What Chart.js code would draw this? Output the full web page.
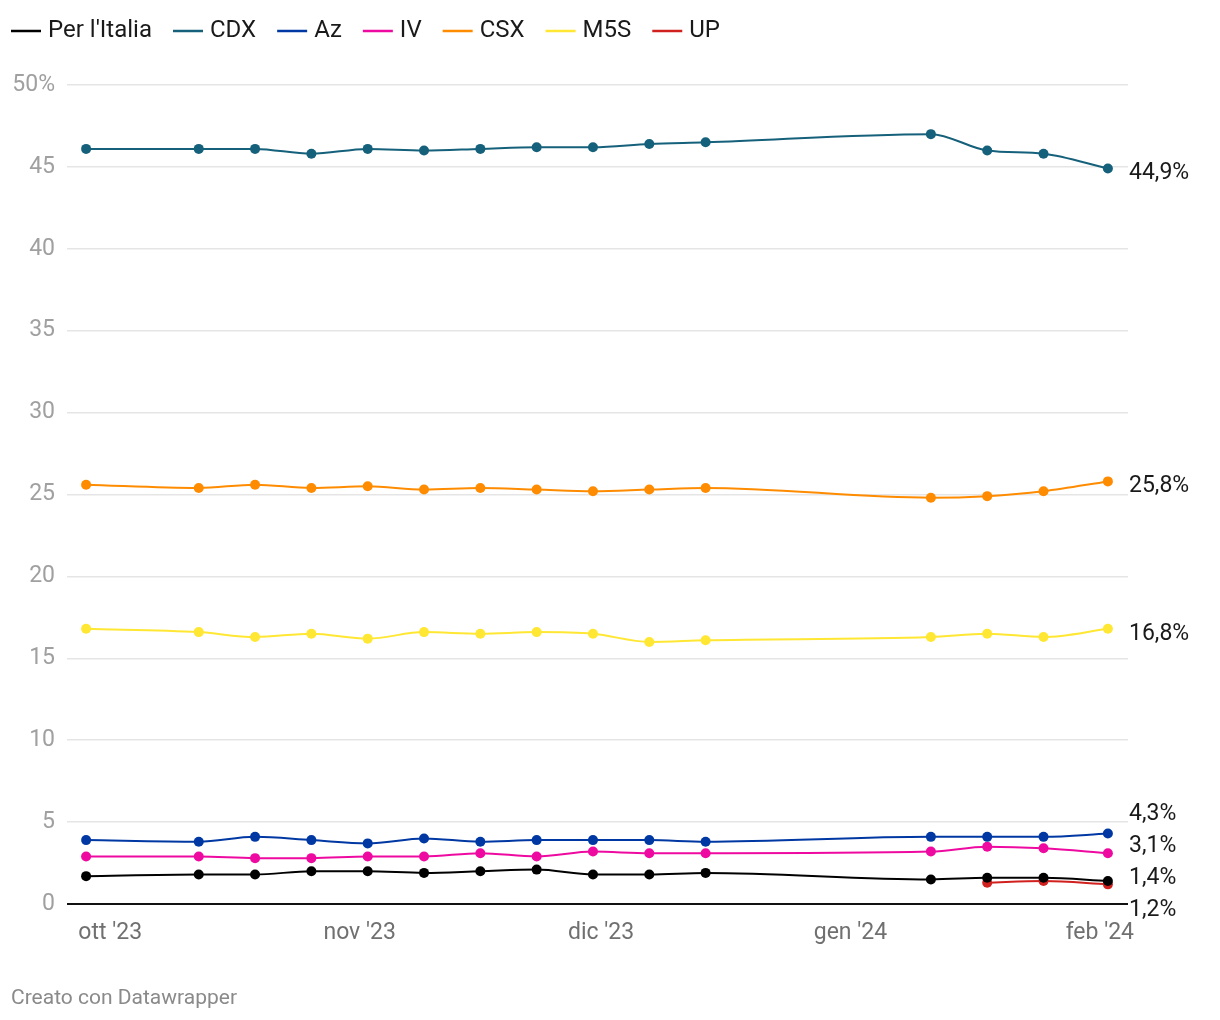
<!DOCTYPE html>
<html lang="it">
<head>
<meta charset="utf-8">
<title>Sondaggi</title>
<script src="https://cdn.jsdelivr.net/npm/chart.js@4.4.1/dist/chart.umd.min.js"></script>
<style>
  html, body { margin: 0; padding: 0; background: #ffffff; }
  #wrap { position: relative; width: 1220px; height: 1020px; }
  #footer { position: absolute; left: 11px; top: 985px; font-family: Roboto, "Noto Sans", sans-serif; font-size: 21px; color: #8a8a8a; }
</style>
</head>
<body>
<div id="wrap">
  <canvas id="c" width="1220" height="1020"></canvas>
  <div id="footer">Creato con Datawrapper</div>
</div>
<script>
// ---- data ----
const pollDates = ['2023-09-28','2023-10-12','2023-10-19','2023-10-26','2023-11-02','2023-11-09','2023-11-16','2023-11-23','2023-11-30','2023-12-07','2023-12-14','2024-01-11','2024-01-18','2024-01-25','2024-02-02'];
const seriesNames = ["Per l'Italia", 'CDX', 'Az', 'IV', 'CSX', 'M5S', 'UP'];
const perItalia = [1.7, 1.8, 1.8, 2.0, 2.0, 1.9, 2.0, 2.1, 1.8, 1.8, 1.9, 1.5, 1.6, 1.6, 1.4];
const cdx       = [46.1, 46.1, 46.1, 45.8, 46.1, 46.0, 46.1, 46.2, 46.2, 46.4, 46.5, 47.0, 46.0, 45.8, 44.9];
const az        = [3.9, 3.8, 4.1, 3.9, 3.7, 4.0, 3.8, 3.9, 3.9, 3.9, 3.8, 4.1, 4.1, 4.1, 4.3];
const iv        = [2.9, 2.9, 2.8, 2.8, 2.9, 2.9, 3.1, 2.9, 3.2, 3.1, 3.1, 3.2, 3.5, 3.4, 3.1];
const csx       = [25.6, 25.4, 25.6, 25.4, 25.5, 25.3, 25.4, 25.3, 25.2, 25.3, 25.4, 24.8, 24.9, 25.2, 25.8];
const m5s       = [16.8, 16.6, 16.3, 16.5, 16.2, 16.6, 16.5, 16.6, 16.5, 16.0, 16.1, 16.3, 16.5, 16.3, 16.8];
const up        = [null, null, null, null, null, null, null, null, null, null, null, null, 1.3, 1.4, 1.2];
const monthTickDates = ['2023-10-01','2023-11-01','2023-12-01','2024-01-01','2024-02-01'];
const monthTickLabels = ["ott '23", "nov '23", "dic '23", "gen '24", "feb '24"];
const yTickValues = [0, 5, 10, 15, 20, 25, 30, 35, 40, 45, 50];
const xRangeDates = ['2023-09-25T15:00', '2024-02-04T12:00'];

// ---- helpers ----
const DAY = 86400000;
const base = Date.parse(pollDates[0] + 'T00:00:00Z');
function dayOf(s) {
  const iso = s.length > 10 ? s + ':00Z' : s + 'T00:00:00Z';
  return (Date.parse(iso) - base) / DAY;
}
const xs = pollDates.map(dayOf);
const monthTicks = monthTickDates.map(dayOf);

const seriesValues = [perItalia, cdx, az, iv, csx, m5s, up];
const colors = ['#000000', '#15607a', '#0038a3', '#ee0aa0', '#ff8c00', '#ffe733', '#d1211f'];

const datasets = seriesNames.map((name, i) => ({
  label: name,
  data: seriesValues[i].map((v, j) => ({ x: xs[j], y: v })),
  borderColor: colors[i],
  backgroundColor: colors[i],
  pointBackgroundColor: colors[i],
  pointBorderWidth: 0,
  pointRadius: 5,
  pointHoverRadius: 5,
  borderWidth: 2,
  cubicInterpolationMode: 'monotone',
  spanGaps: false
}));

const FONT = 'Roboto, "Noto Sans", sans-serif';

const legendPlugin = {
  id: 'dwLegend',
  afterDraw(chart) {
    const ctx = chart.ctx;
    ctx.save();
    ctx.font = '24px ' + FONT;
    ctx.textBaseline = 'middle';
    let x = 11;
    const y = 31;
    chart.data.datasets.forEach(ds => {
      ctx.strokeStyle = ds.borderColor;
      ctx.lineWidth = 2.5;
      ctx.beginPath();
      ctx.moveTo(x, y);
      ctx.lineTo(x + 30, y);
      ctx.stroke();
      ctx.fillStyle = '#1a1a1a';
      ctx.textAlign = 'left';
      ctx.fillText(ds.label, x + 37, y);
      x += 37 + ctx.measureText(ds.label).width + 21;
    });
    ctx.restore();
  }
};

const endLabelPlugin = {
  id: 'endLabels',
  afterDatasetsDraw(chart) {
    const ctx = chart.ctx;
    const items = [];
    chart.data.datasets.forEach((ds, i) => {
      const meta = chart.getDatasetMeta(i);
      let last = -1;
      ds.data.forEach((p, j) => { if (p.y !== null && p.y !== undefined) last = j; });
      if (last < 0) return;
      const el = meta.data[last];
      items.push({ y0: el.y, y: el.y, text: ds.data[last].y.toFixed(1).replace('.', ',') + '%' });
    });
    items.sort((a, b) => a.y0 - b.y0);
    const gap = 32;
    let clusters = items.map(it => ({ items: [it], center: it.y0 }));
    let changed = true;
    while (changed) {
      changed = false;
      for (let k = 0; k < clusters.length - 1; k++) {
        const a = clusters[k], b = clusters[k + 1];
        const aBottom = a.center + (a.items.length - 1) * gap / 2;
        const bTop = b.center - (b.items.length - 1) * gap / 2;
        if (bTop - aBottom < gap) {
          const merged = a.items.concat(b.items);
          const mean = merged.reduce((s, it) => s + it.y0, 0) / merged.length;
          clusters.splice(k, 2, { items: merged, center: mean });
          changed = true;
          break;
        }
      }
    }
    clusters.forEach(c => {
      const n = c.items.length;
      c.items.forEach((it, k) => { it.y = c.center + (k - (n - 1) / 2) * gap; });
    });
    ctx.save();
    ctx.font = '23px ' + FONT;
    ctx.fillStyle = '#1a1a1a';
    ctx.textAlign = 'left';
    ctx.textBaseline = 'middle';
    const x = chart.chartArea.right + 1;
    items.forEach(it => {
      ctx.fillText(it.text, x, it.y === it.y0 ? it.y + 5 : it.y - 1);
    });
    ctx.restore();
  }
};

new Chart(document.getElementById('c'), {
  type: 'line',
  data: { datasets },
  plugins: [legendPlugin, endLabelPlugin],
  options: {
    responsive: false,
    animation: false,
    events: [],
    layout: { padding: { left: 0, right: 92, top: 85, bottom: 56 } },
    plugins: { legend: { display: false }, tooltip: { enabled: false } },
    scales: {
      x: {
        type: 'linear',
        min: dayOf(xRangeDates[0]),
        max: dayOf(xRangeDates[1]),
        grid: { display: false },
        border: { display: false },
        afterBuildTicks(scale) { scale.ticks = monthTicks.map(v => ({ value: v })); },
        afterFit(scale) { scale.height = 60; },
        ticks: {
          autoSkip: false,
          maxRotation: 0,
          padding: 7,
          color: '#707070',
          font: { family: FONT, size: 23 },
          callback(v) { const k = monthTicks.indexOf(v); return k >= 0 ? monthTickLabels[k] : ''; }
        }
      },
      y: {
        min: 0,
        max: 50,
        afterBuildTicks(scale) { scale.ticks = yTickValues.map(v => ({ value: v })); },
        afterFit(scale) { scale.width = 67; },
        border: { display: false },
        grid: {
          drawTicks: false,
          color: c => c.tick && c.tick.value === 0 ? '#111111' : '#e5e5e5',
          lineWidth: c => c.tick && c.tick.value === 0 ? 2 : 1.5
        },
        ticks: {
          padding: 12,
          color: '#a0a0a0',
          font: { family: FONT, size: 23 },
          callback(v) { return v === 50 ? '50%' : String(v); }
        }
      }
    }
  }
});
</script>
</body>
</html>
